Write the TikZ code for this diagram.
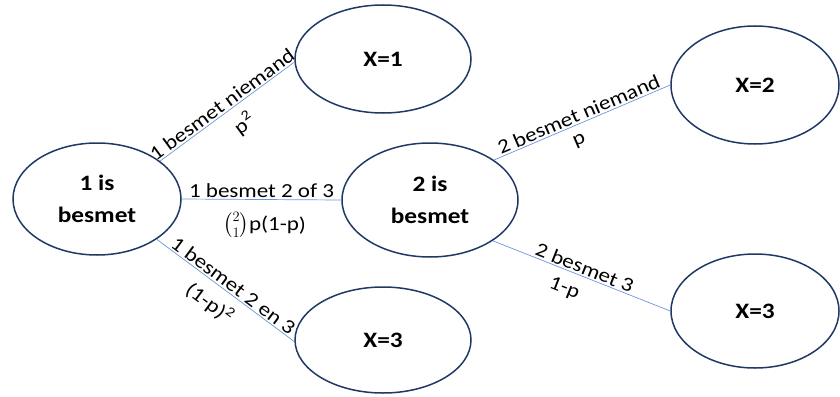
\documentclass[tikz,border=0pt]{standalone}
\usepackage{amsmath}
\usepackage{fontspec}
\setmainfont{Carlito}[FakeStretch=1.15]
\usetikzlibrary{shapes.geometric}
\definecolor{ringcol}{HTML}{1F3864}
\definecolor{linecol}{HTML}{6A96DA}
\tikzset{
  state/.style={draw=ringcol, line width=1.5pt, ellipse, inner sep=0pt,
     font=\fontsize{22}{32}\selectfont\bfseries, align=center},
  conn/.style={draw=linecol, line width=0.7pt},
  lab/.style={font=\fontsize{20}{24}\selectfont, inner sep=1.5pt, sloped},
  plab/.style={lab, below=8pt}
}
\begin{document}
\begin{tikzpicture}[x=1pt,y=1pt]
\useasboundingbox (0,0) rectangle (840,-396);
\node[state, minimum width=168pt, minimum height=112pt] (s1) at (97,-199) {1 is\\besmet};
\node[state, minimum width=176pt, minimum height=108pt] (x1) at (383,-59) {X=1};
\node[state, minimum width=176pt, minimum height=114pt] (s2) at (430,-200) {2 is\\besmet};
\node[state, minimum width=168pt, minimum height=118pt] (x2) at (755,-85) {X=2};
\node[state, minimum width=168pt, minimum height=114pt] (x3b) at (755,-311) {X=3};
\node[state, minimum width=176pt, minimum height=106pt] (x3a) at (383,-340) {X=3};

\path[conn] (s1.31.7) -- node[lab, above, pos=0.5] (l1) {1 besmet niemand}
   node[plab, pos=0.54] (p1) {p\textsuperscript{2}} (x1.182);
\path[conn] (s1.0) -- node[lab, above, pos=0.5] (l2) {1 besmet 2 of 3}
   node[plab, below=3pt, pos=0.52] (p2) {$\binom{2}{1}$p(1-p)} (s2.180);
\path[conn] (s1.-34.3) -- node[lab, above, pos=0.52] (l3) {1 besmet 2 en 3}
   node[plab, pos=0.47] (p3) {(1-p)\textsuperscript{2}} (x3a.181);
\path[conn] (s2.32.4) -- node[lab, above, pos=0.5] (l4) {2 besmet niemand}
   node[plab, pos=0.45] (p4) {p} (x2.180.7);
\path[conn] (s2.-33.7) -- node[lab, above, pos=0.5] (l5) {2 besmet 3}
   node[plab, pos=0.44] (p5) {1-p} (x3b.180.7);
\end{tikzpicture}
\end{document}
